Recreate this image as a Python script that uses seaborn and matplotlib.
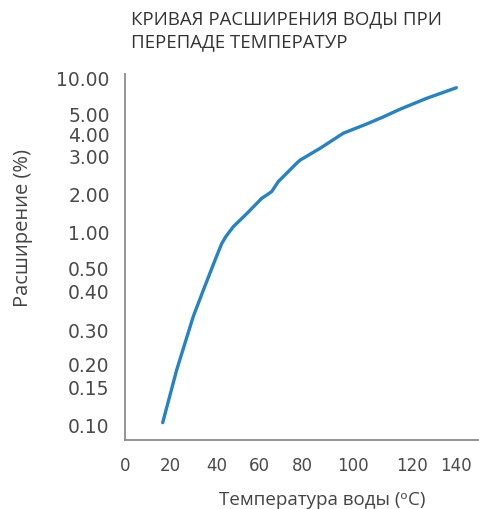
import numpy as np
import pandas as pd
import matplotlib
matplotlib.use("Agg")
import matplotlib.pyplot as plt
import seaborn as sns

# curve
temp = [16.5, 22.6, 29.8, 34.2, 39.3, 42.4, 44.4, 47.8, 54.2, 61.1, 63.5, 65.8, 68.9,
        77.5, 79.1, 87.1, 96.2, 104.7, 110.2, 116.0, 126.8, 140.3]
expansion = [0.104, 0.188, 0.335, 0.407, 0.617, 0.85, 0.95, 1.16, 1.51, 1.91, 2.0, 2.09, 2.35,
             2.83, 2.91, 3.37, 4.04, 4.51, 4.86, 5.7, 7.22, 8.69]

x_ticks = [0, 20, 40, 60, 80, 100, 120, 140]
y_ticks = [0.10, 0.15, 0.20, 0.30, 0.40, 0.50, 1.00, 2.00, 3.00, 4.00, 5.00, 10.00]

# uneven tick spacing of the original chart (screen positions of the ticks)
x_anchor_val = [0, 20, 40, 60, 80, 100, 120, 140, 150.6]
x_anchor_pos = [125, 170.7, 216.7, 259.3, 302, 353, 411.7, 455.7, 479]
y_anchor_val = [0.085, 0.10, 0.15, 0.20, 0.30, 0.40, 0.50, 1.00, 2.00, 3.00, 4.00, 5.00, 10.00, 10.6]
y_anchor_pos = [440, 425.7, 387.7, 364.3, 330, 291.7, 268.3, 232.7, 195, 156.7, 134, 114.3, 78.3, 74]
y_anchor_pos = [-p for p in y_anchor_pos]


def x_fwd(v):
    return np.interp(v, x_anchor_val, x_anchor_pos)


def x_inv(p):
    return np.interp(p, x_anchor_pos, x_anchor_val)


def y_fwd(v):
    return np.interp(v, y_anchor_val, y_anchor_pos)


def y_inv(p):
    return np.interp(p, y_anchor_pos, y_anchor_val)


df = pd.DataFrame({"temp": temp, "expansion": expansion})

sns.set_style("white")
plt.rcParams["font.family"] = ["Open Sans", "DejaVu Sans"]

fig = plt.figure(figsize=(4.79, 5.09), dpi=100)
ax = fig.add_axes([125 / 479, 1 - 440 / 509, 354 / 479, 366 / 509])
ax.set_xscale("function", functions=(x_fwd, x_inv))
ax.set_yscale("function", functions=(y_fwd, y_inv))

sns.lineplot(data=df, x="temp", y="expansion", ax=ax, color="#2483c5", linewidth=2.4)

ax.set_xlim(0, 150.6)
ax.set_ylim(0.085, 10.6)
ax.set_xticks(x_ticks)
ax.set_xticklabels([str(t) for t in x_ticks], fontfamily="DejaVu Sans", fontsize=12)
ax.set_yticks(y_ticks)
ax.set_yticklabels([f"{t:.2f}" for t in y_ticks], fontfamily="DejaVu Sans", fontsize=13.5)
ax.minorticks_off()
ax.tick_params(axis="both", length=0, labelcolor="#4a4a4a")
ax.tick_params(axis="x", pad=12)
ax.tick_params(axis="y", pad=11)

sns.despine(ax=ax)
for side in ["left", "bottom"]:
    ax.spines[side].set_color("#8c8c8c")
    ax.spines[side].set_linewidth(1.3)

ax.set_xlabel("Температура воды (ᵒC)", fontsize=13.5, color="#444444", va="center")
ax.xaxis.set_label_coords((322 - 125) / 354, (440 - 500) / 366)
ax.set_ylabel("Расширение (%)", fontsize=14.5, color="#444444", va="center")
ax.yaxis.set_label_coords((23 - 125) / 354, (440 - 228) / 366)

fig.text(131 / 479, 1 - 19.5 / 509, "КРИВАЯ РАСШИРЕНИЯ ВОДЫ ПРИ",
         fontsize=13.4, color="#333333", va="center", ha="left")
fig.text(131 / 479, 1 - 42.5 / 509, "ПЕРЕПАДЕ ТЕМПЕРАТУР",
         fontsize=13.4, color="#333333", va="center", ha="left")

fig.savefig("out.png", dpi=100)
